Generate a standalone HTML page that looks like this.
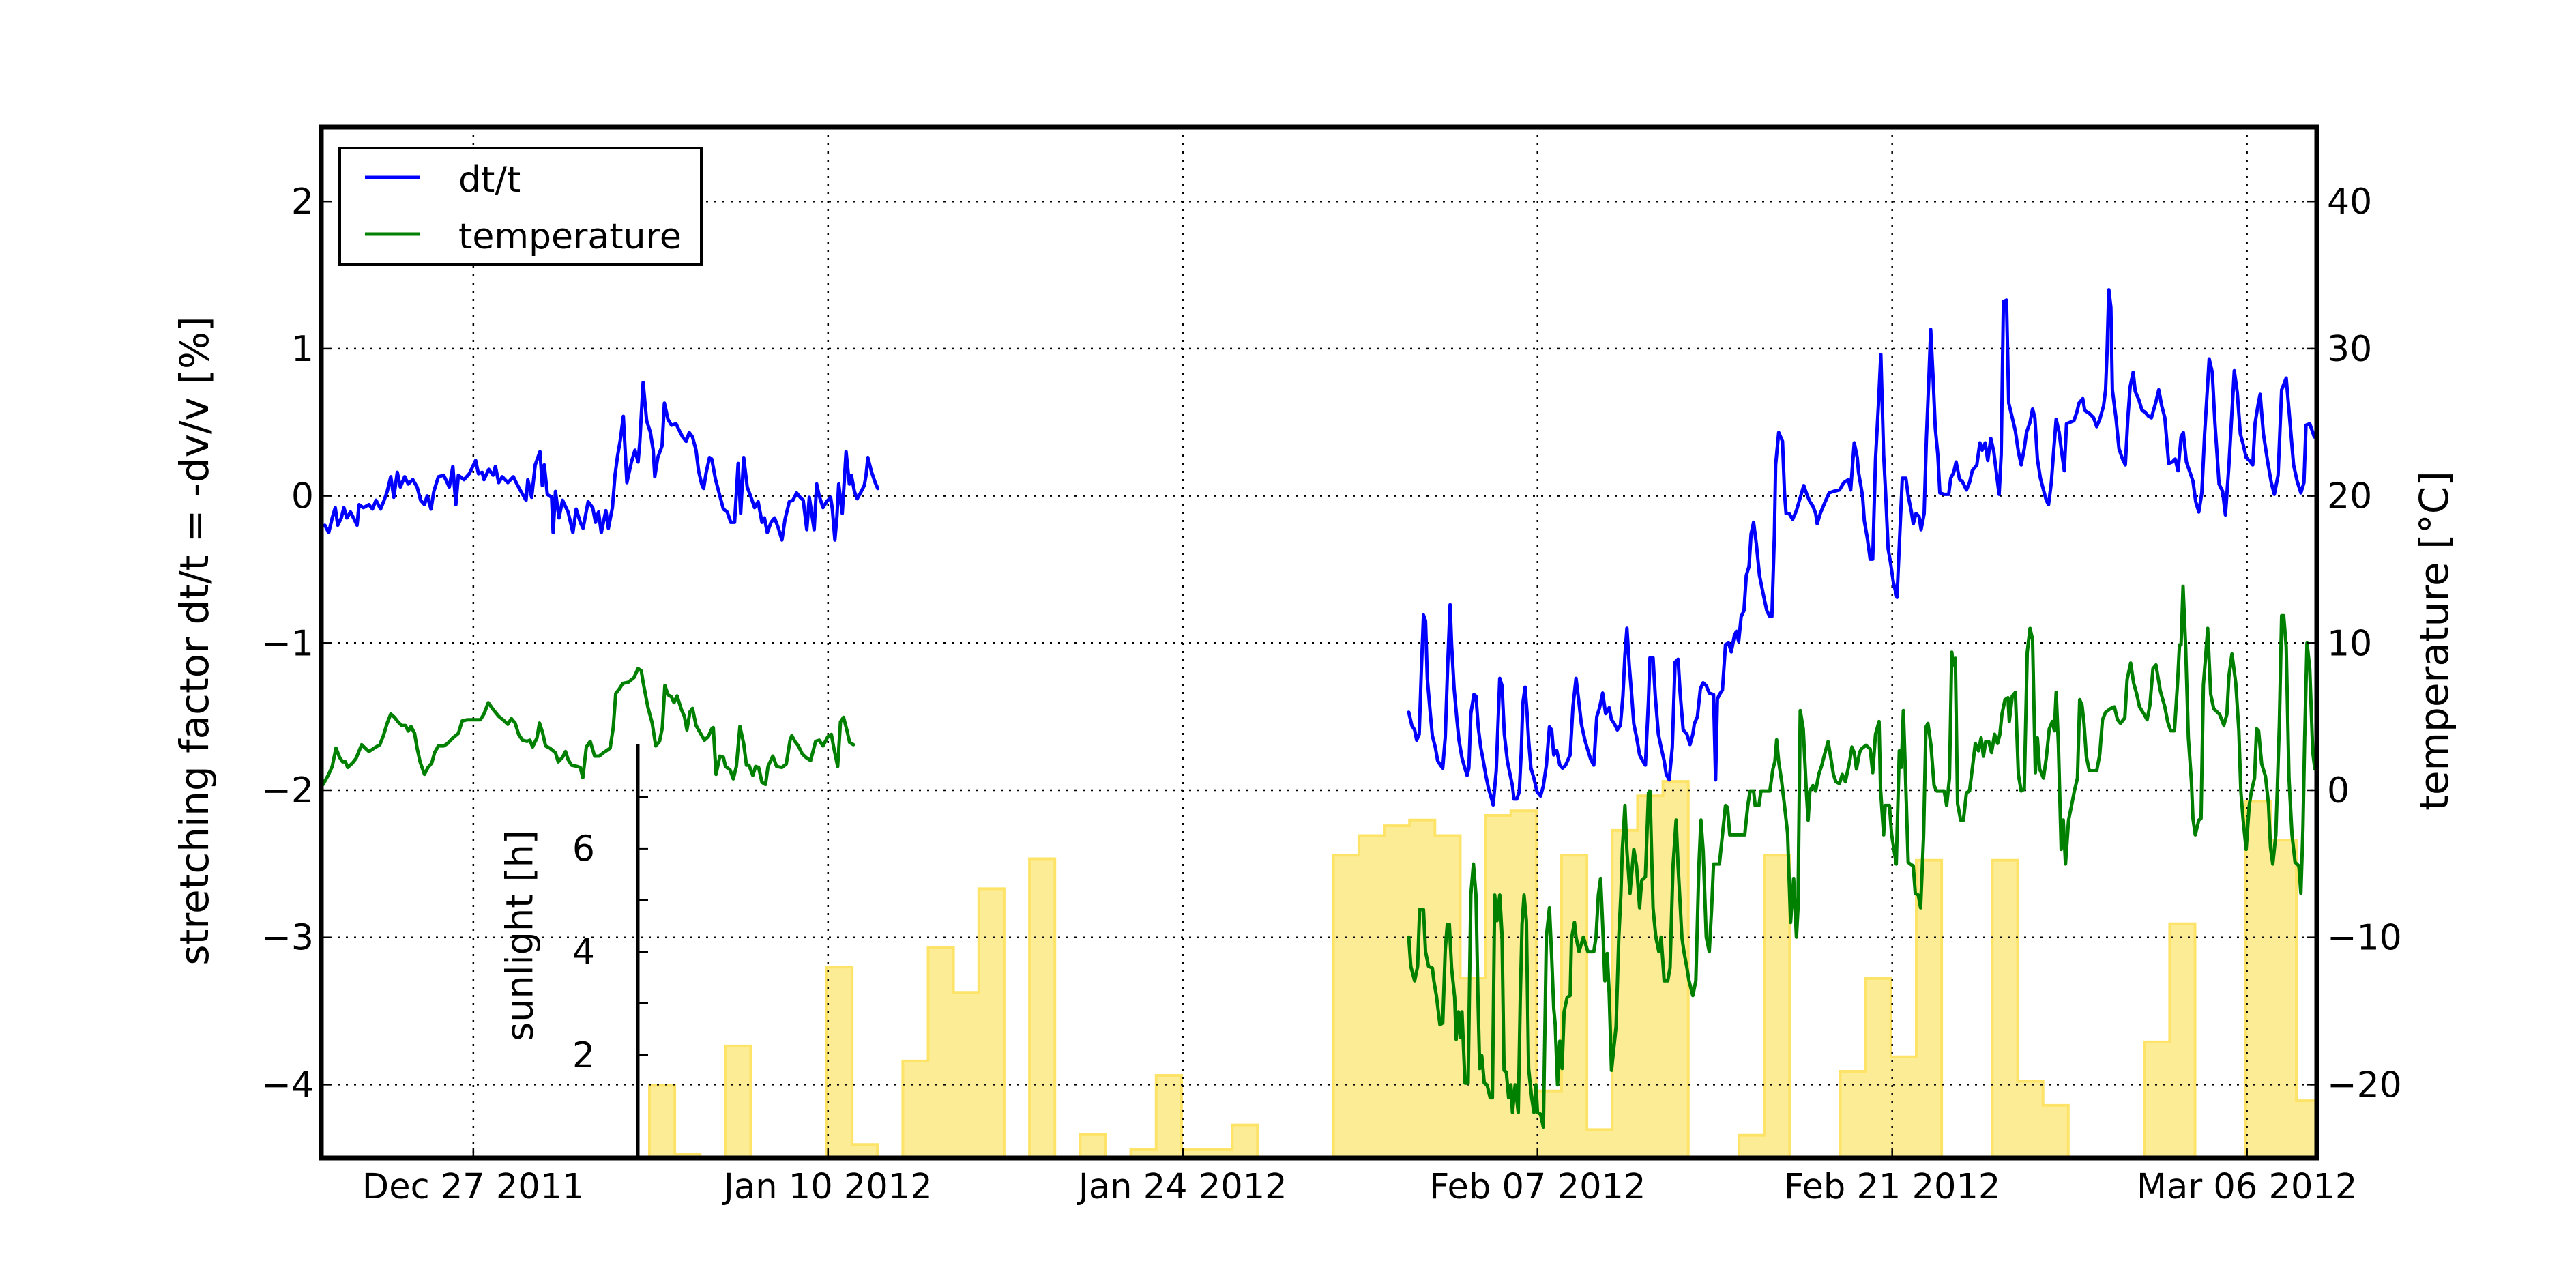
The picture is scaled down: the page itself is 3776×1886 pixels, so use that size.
<!DOCTYPE html>
<html>
<head>
<meta charset="utf-8">
<style>
html,body{margin:0;padding:0;background:#fff;}
svg{display:block;}
text{font-family:"DejaVu Sans","Liberation Sans",sans-serif;fill:#000;}
</style>
</head>
<body>
<svg id="chart" width="3776" height="1886" viewBox="0 0 3776 1886" xmlns="http://www.w3.org/2000/svg">
  <defs>
    <clipPath id="plotclip"><rect x="471" y="186" width="2925" height="1511"/></clipPath>
  </defs>
  <rect x="0" y="0" width="3776" height="1886" fill="#fff"/>
  <g id="sunLayer" clip-path="url(#plotclip)"></g>
  <g id="gridLayer"></g>
  <g id="lineLayer" clip-path="url(#plotclip)"></g>
  <g id="axisLayer"></g>
  <text x="289" y="939" font-size="58" text-anchor="middle" dominant-baseline="middle" transform="rotate(-90 289 939)">stretching factor dt/t = -dv/v [%]</text>
  <text x="3572" y="939" font-size="58" text-anchor="middle" dominant-baseline="middle" transform="rotate(-90 3572 939)">temperature [°C]</text>
  <text x="766" y="1371" font-size="54" text-anchor="middle" dominant-baseline="middle" transform="rotate(-90 766 1371)">sunlight [h]</text>
  <g>
    <rect x="498" y="217" width="530" height="171" fill="#fff" stroke="#000" stroke-width="4"/>
    <line x1="535" y1="260" x2="616" y2="260" stroke="#0000ff" stroke-width="5"/>
    <text x="672" y="281" font-size="52">dt/t</text>
    <line x1="535" y1="343" x2="616" y2="343" stroke="#008000" stroke-width="5"/>
    <text x="672" y="364" font-size="52">temperature</text>
  </g>
</svg>
<script>
// ---- data (days since 2011-12-21) ----
const blueDays1 = [0.14,0.29,0.43,0.55,0.65,0.79,0.89,1.01,1.15,1.30,1.41,1.49,1.66,1.88,2.02,2.16,2.34,2.48,2.60,2.74,2.86,3.00,3.12,3.29,3.43,3.61,3.78,3.92,4.07,4.18,4.33,4.44,4.62,4.83,5.05,5.19,5.31,5.41,5.63,5.84,6.09,6.20,6.35,6.42,6.61,6.78,6.87,7.00,7.14,7.36,7.58,7.72,7.91,8.08,8.15,8.30,8.44,8.63,8.72,8.80,8.92,9.09,9.15,9.24,9.38,9.52,9.74,9.93,10.06,10.22,10.33,10.53,10.71,10.82,10.94,11.05,11.23,11.33,11.49,11.59,11.69,11.80,11.92,12.06,12.24,12.38,12.50,12.57,12.70,12.84,12.99,13.10,13.16,13.28,13.45,13.54,13.68,13.82,14.00,14.11,14.26,14.40,14.52,14.65,14.79,14.89,15.01,15.09,15.19,15.32,15.41,15.56,15.73,15.87,16.02,16.16,16.31,16.45,16.55,16.67,16.81,16.96,17.10,17.24,17.39,17.49,17.60,17.75,17.89,18.04,18.18,18.30,18.47,18.61,18.76,18.90,19.02,19.16,19.26,19.45,19.55,19.65,19.80,19.94,20.10,20.17,20.27,20.35,20.42,20.56,20.71,20.84,20.92,21.04,21.15,21.28,21.43,21.50,21.57,21.72,21.86,21.96];
const blueDt1 = [-0.20,-0.25,-0.15,-0.08,-0.20,-0.15,-0.08,-0.15,-0.11,-0.16,-0.20,-0.06,-0.08,-0.06,-0.09,-0.03,-0.09,-0.03,0.03,0.13,-0.01,0.16,0.06,0.13,0.08,0.11,0.06,-0.03,-0.06,0.00,-0.09,0.03,0.13,0.14,0.06,0.20,-0.06,0.14,0.11,0.15,0.24,0.15,0.16,0.11,0.18,0.14,0.20,0.09,0.13,0.09,0.13,0.08,0.02,-0.03,0.11,-0.01,0.21,0.30,0.07,0.21,0.01,-0.01,-0.25,0.03,-0.15,-0.03,-0.11,-0.25,-0.09,-0.18,-0.22,-0.04,-0.08,-0.18,-0.11,-0.25,-0.10,-0.22,-0.08,0.14,0.27,0.38,0.54,0.09,0.23,0.31,0.23,0.36,0.77,0.51,0.43,0.31,0.13,0.26,0.34,0.63,0.52,0.48,0.49,0.45,0.40,0.37,0.43,0.40,0.31,0.17,0.08,0.05,0.16,0.26,0.25,0.11,0.00,-0.09,-0.11,-0.18,-0.18,0.22,-0.12,0.26,0.06,-0.01,-0.08,-0.04,-0.18,-0.15,-0.25,-0.18,-0.15,-0.22,-0.30,-0.16,-0.04,-0.03,0.02,-0.01,-0.03,-0.23,-0.01,-0.23,0.08,0.00,-0.08,-0.04,-0.01,-0.09,-0.30,-0.14,0.08,-0.12,0.30,0.08,0.14,0.03,-0.02,0.02,0.07,0.14,0.26,0.16,0.09,0.05];
const greenDays1 = [0.07,0.29,0.43,0.58,0.72,0.84,0.95,1.04,1.23,1.37,1.59,1.73,1.88,2.09,2.31,2.45,2.60,2.74,2.89,3.03,3.17,3.32,3.43,3.54,3.68,3.78,3.90,4.07,4.21,4.36,4.47,4.62,4.83,4.98,5.19,5.41,5.56,5.77,5.99,6.28,6.42,6.59,6.78,7.00,7.22,7.36,7.50,7.65,7.79,7.94,8.12,8.23,8.34,8.51,8.61,8.73,8.85,9.02,9.24,9.35,9.52,9.64,9.74,9.88,10.10,10.22,10.32,10.46,10.61,10.79,10.97,11.14,11.40,11.52,11.62,11.76,11.90,12.12,12.34,12.50,12.63,12.70,12.89,13.06,13.20,13.35,13.46,13.56,13.68,13.82,13.92,14.04,14.21,14.33,14.43,14.55,14.65,14.79,14.94,15.12,15.27,15.41,15.47,15.58,15.73,15.87,15.95,16.13,16.26,16.38,16.52,16.67,16.78,16.88,17.03,17.14,17.26,17.39,17.53,17.63,17.82,17.97,18.18,18.35,18.50,18.57,18.69,18.83,18.98,19.12,19.31,19.51,19.65,19.80,19.99,20.13,20.23,20.38,20.49,20.61,20.74,20.85,21.00];
const greenTemp1 = [0.39,1.08,1.62,2.86,2.24,1.93,1.93,1.55,1.85,2.16,3.09,2.86,2.63,2.86,3.09,3.71,4.56,5.18,4.95,4.64,4.40,4.40,4.02,4.33,3.86,2.86,1.93,1.08,1.55,1.85,2.55,3.01,3.01,3.17,3.55,3.86,4.71,4.79,4.79,4.79,5.18,5.95,5.49,5.02,4.71,4.48,4.87,4.56,3.79,3.40,3.32,3.40,2.94,3.55,4.56,3.94,3.01,2.86,2.55,1.93,2.24,2.63,2.09,1.70,1.62,1.55,0.85,2.94,3.32,2.32,2.32,2.55,2.86,4.25,6.57,6.88,7.26,7.34,7.65,8.27,8.11,7.34,5.64,4.56,3.01,3.32,4.25,7.11,6.49,6.34,5.95,6.41,5.49,5.02,4.10,5.33,5.56,4.40,3.94,3.40,3.63,4.17,4.25,1.08,2.32,2.24,1.62,1.39,0.77,1.62,4.33,3.17,1.70,1.70,1.00,1.62,1.55,0.54,0.39,1.62,2.32,1.62,1.55,1.78,3.40,3.71,3.32,3.01,2.47,2.24,2.01,3.32,3.40,3.01,3.63,3.79,2.86,1.62,4.64,4.95,4.10,3.25,3.09];
const blueDays2 = [42.92,43.04,43.15,43.23,43.33,43.42,43.50,43.58,43.65,43.77,43.85,43.97,44.06,44.17,44.26,44.36,44.45,44.55,44.61,44.71,44.82,44.90,45.02,45.10,45.22,45.29,45.37,45.49,45.57,45.66,45.76,45.84,45.96,46.07,46.19,46.25,46.37,46.51,46.60,46.69,46.81,46.89,47.01,47.07,47.18,47.28,47.36,47.42,47.51,47.59,47.65,47.74,47.86,47.98,48.12,48.23,48.35,48.47,48.56,48.64,48.76,48.88,48.99,49.11,49.29,49.40,49.52,49.64,49.73,49.87,49.99,50.10,50.22,50.34,50.45,50.57,50.69,50.83,50.92,51.04,51.15,51.27,51.37,51.45,51.53,51.62,51.72,51.80,51.91,52.03,52.15,52.26,52.38,52.44,52.56,52.65,52.77,52.88,53.00,53.08,53.20,53.32,53.43,53.55,53.63,53.75,53.90,54.02,54.13,54.19,54.31,54.43,54.54,54.66,54.78,54.95,55.03,55.10,55.18,55.30,55.42,55.54,55.65,55.77,55.85,55.94,56.04,56.15,56.24,56.35,56.43,56.53,56.64,56.76,56.90,57.05,57.17,57.25,57.35,57.40,57.52,57.67,57.75,57.81,57.93,58.07,58.22,58.34,58.51,58.63,58.75,58.87,58.98,59.04,59.16,59.33,59.51,59.68,59.92,60.09,60.27,60.36,60.44,60.50,60.62,60.67,60.83,60.90,61.02,61.13,61.23,61.34,61.46,61.55,61.66,61.74,61.84,61.93,62.05,62.19,62.30,62.40,62.54,62.63,62.75,62.83,62.94,63.06,63.14,63.26,63.35,63.45,63.52,63.61,63.70,63.80,63.88,64.05,64.23,64.31,64.43,64.52,64.66,64.76,64.93,65.05,65.16,65.34,65.46,65.55,65.67,65.77,65.89,66.01,66.10,66.22,66.30,66.39,66.51,66.60,66.74,66.86,66.98,67.09,67.21,67.30,67.44,67.54,67.63,67.73,67.85,67.97,68.08,68.17,68.28,68.38,68.47,68.59,68.67,68.79,68.88,69.02,69.17,69.29,69.37,69.52,69.60,69.78,69.95,70.07,70.19,70.34,70.42,70.48,70.55,70.63,70.69,70.83,70.95,71.09,71.20,71.30,71.39,71.51,71.59,71.74,71.86,71.97,72.12,72.23,72.41,72.52,72.64,72.76,72.91,73.05,73.17,73.28,73.40,73.49,73.61,73.75,73.87,73.98,74.10,74.22,74.33,74.51,74.63,74.74,74.90,75.04,75.15,75.29,75.50,75.62,75.74,75.85,75.97,76.09,76.23,76.32,76.44,76.52,76.65,76.81,76.96,77.08,77.23,77.37,77.55,77.66,77.84,77.98,78.13,78.25,78.33,78.48,78.66];
const blueDt2 = [-1.47,-1.56,-1.59,-1.66,-1.62,-1.17,-0.81,-0.85,-1.24,-1.48,-1.63,-1.71,-1.80,-1.83,-1.85,-1.64,-1.17,-0.74,-1.01,-1.31,-1.52,-1.66,-1.78,-1.83,-1.90,-1.85,-1.48,-1.35,-1.36,-1.57,-1.71,-1.78,-1.90,-1.99,-2.06,-2.10,-1.87,-1.24,-1.29,-1.62,-1.80,-1.87,-1.97,-2.06,-2.06,-2.01,-1.73,-1.41,-1.30,-1.48,-1.66,-1.85,-1.92,-2.01,-2.04,-1.97,-1.83,-1.57,-1.59,-1.76,-1.73,-1.83,-1.85,-1.83,-1.76,-1.43,-1.24,-1.41,-1.55,-1.66,-1.73,-1.79,-1.83,-1.50,-1.44,-1.34,-1.48,-1.44,-1.52,-1.55,-1.59,-1.56,-1.36,-1.08,-0.90,-1.15,-1.36,-1.55,-1.64,-1.76,-1.80,-1.83,-1.39,-1.10,-1.10,-1.36,-1.62,-1.71,-1.80,-1.89,-1.93,-1.71,-1.13,-1.11,-1.34,-1.59,-1.62,-1.69,-1.62,-1.55,-1.50,-1.31,-1.27,-1.29,-1.34,-1.35,-1.93,-1.38,-1.35,-1.32,-1.01,-1.00,-1.06,-0.95,-0.92,-0.99,-0.82,-0.78,-0.54,-0.48,-0.26,-0.18,-0.33,-0.54,-0.66,-0.78,-0.82,-0.82,-0.26,0.21,0.43,0.37,0.02,-0.12,-0.12,-0.16,-0.10,-0.03,0.07,0.01,-0.04,-0.07,-0.12,-0.19,-0.12,-0.05,0.02,0.03,0.04,0.09,0.11,0.04,0.22,0.36,0.26,0.16,0.00,-0.17,-0.29,-0.43,-0.43,0.25,0.63,0.96,0.28,0.02,-0.36,-0.45,-0.59,-0.69,-0.26,0.12,0.12,0.00,-0.10,-0.19,-0.12,-0.14,-0.23,-0.12,0.39,0.81,1.13,0.81,0.46,0.28,0.02,0.01,0.01,0.12,0.16,0.23,0.11,0.10,0.04,0.09,0.17,0.21,0.36,0.31,0.36,0.24,0.39,0.30,0.17,0.01,0.28,1.32,1.33,0.63,0.53,0.44,0.30,0.21,0.32,0.43,0.50,0.59,0.53,0.25,0.12,0.04,-0.03,-0.06,0.09,0.32,0.52,0.43,0.32,0.17,0.49,0.50,0.51,0.57,0.63,0.66,0.58,0.56,0.53,0.47,0.52,0.61,0.72,0.98,1.40,1.28,0.72,0.53,0.32,0.25,0.21,0.53,0.74,0.84,0.71,0.65,0.58,0.57,0.54,0.53,0.64,0.72,0.61,0.53,0.22,0.23,0.25,0.17,0.40,0.43,0.23,0.16,0.10,-0.04,-0.11,0.02,0.42,0.93,0.84,0.49,0.08,0.03,-0.13,0.21,0.85,0.70,0.42,0.35,0.26,0.24,0.21,0.49,0.62,0.69,0.42,0.24,0.09,0.01,0.14,0.72,0.80,0.58,0.21,0.10,0.02,0.09,0.48,0.49,0.40];
const greenDays2 = [42.92,43.00,43.15,43.27,43.35,43.50,43.58,43.70,43.85,43.91,44.01,44.15,44.26,44.36,44.44,44.52,44.61,44.73,44.79,44.88,44.96,45.02,45.14,45.26,45.37,45.47,45.57,45.66,45.72,45.80,45.90,46.01,46.13,46.22,46.31,46.40,46.51,46.60,46.68,46.77,46.86,46.95,47.01,47.12,47.24,47.32,47.39,47.47,47.56,47.65,47.77,47.86,47.94,48.00,48.12,48.23,48.35,48.41,48.47,48.56,48.64,48.70,48.79,48.88,48.97,49.05,49.17,49.29,49.34,49.46,49.52,49.64,49.81,49.99,50.22,50.31,50.40,50.49,50.57,50.66,50.75,50.83,50.92,51.10,51.21,51.29,51.35,51.45,51.53,51.65,51.80,51.91,52.03,52.11,52.26,52.38,52.44,52.56,52.67,52.79,52.88,53.00,53.14,53.23,53.35,53.47,53.55,53.70,53.78,53.90,53.98,54.13,54.25,54.37,54.45,54.54,54.66,54.78,54.87,54.95,55.18,55.30,55.42,55.50,55.59,56.18,56.30,56.39,56.53,56.59,56.74,56.82,57.17,57.29,57.37,57.44,57.52,57.64,57.75,57.87,57.99,58.11,58.22,58.28,58.37,58.49,58.61,58.68,58.75,58.87,58.98,59.10,59.22,59.33,59.47,59.59,59.68,59.78,59.92,60.03,60.15,60.33,60.41,60.50,60.59,60.71,60.78,60.96,61.13,61.23,61.34,61.48,61.54,61.66,61.72,61.89,61.98,62.16,62.28,62.36,62.44,62.51,62.63,62.71,62.83,62.91,63.03,63.12,63.24,63.33,63.41,63.53,63.65,63.76,64.05,64.15,64.26,64.35,64.41,64.49,64.58,64.70,64.81,64.93,65.05,65.16,65.28,65.40,65.51,65.60,65.69,65.81,65.92,66.04,66.16,66.25,66.33,66.45,66.57,66.62,66.74,66.86,66.98,67.09,67.21,67.33,67.44,67.54,67.65,67.73,67.82,67.97,68.08,68.20,68.32,68.40,68.47,68.56,68.67,68.75,68.84,68.96,69.08,69.19,69.31,69.40,69.49,69.57,69.66,69.78,69.90,70.07,70.19,70.30,70.42,70.60,70.77,70.89,71.01,71.18,71.27,71.41,71.53,71.65,71.76,71.94,72.06,72.17,72.29,72.41,72.58,72.76,72.87,72.99,73.14,73.26,73.34,73.40,73.48,73.58,73.69,73.81,73.87,73.96,74.10,74.19,74.28,74.39,74.45,74.57,74.69,74.92,75.09,75.21,75.29,75.41,75.56,75.68,75.76,75.85,75.97,76.09,76.18,76.30,76.38,76.46,76.58,76.73,76.85,76.93,77.02,77.14,77.28,77.37,77.45,77.55,77.66,77.78,77.90,78.05,78.13,78.21,78.28,78.37,78.48,78.60,78.68,78.77];
const greenTemp2 = [-9.98,-11.96,-12.95,-11.96,-8.11,-8.11,-10.97,-11.96,-12.08,-12.95,-13.95,-15.93,-15.81,-10.84,-9.11,-9.11,-12.08,-14.07,-16.92,-15.06,-16.80,-15.06,-19.90,-19.90,-7.12,-5.01,-7.12,-14.81,-18.91,-18.04,-19.90,-20.02,-20.89,-20.89,-7.12,-8.86,-7.12,-9.85,-19.03,-19.16,-20.89,-20.02,-21.89,-20.02,-21.89,-14.07,-9.11,-7.12,-8.86,-18.91,-20.89,-21.89,-20.02,-21.89,-22.01,-22.88,-9.98,-8.98,-7.99,-11.34,-14.81,-15.93,-20.02,-17.05,-18.91,-15.06,-14.07,-13.95,-10.10,-8.98,-9.98,-10.97,-9.98,-10.97,-10.97,-9.98,-7.12,-6.00,-9.11,-12.95,-11.09,-13.82,-19.03,-16.05,-9.98,-7.12,-4.02,-1.04,-4.14,-7.00,-4.02,-5.14,-7.99,-6.13,-5.88,-0.17,-0.05,-7.99,-9.98,-10.97,-9.98,-12.95,-12.95,-12.08,-5.14,-2.03,-5.14,-9.98,-10.97,-12.08,-12.95,-13.95,-12.95,-5.14,-2.03,-4.14,-9.98,-10.97,-8.11,-5.01,-5.01,-3.03,-1.04,-1.17,-3.03,-3.03,-1.04,-0.05,-0.05,-1.04,-1.04,-0.05,-0.05,1.44,1.94,3.42,1.94,0.57,-1.04,-2.90,-8.98,-6.00,-9.98,-8.11,5.41,4.17,-0.05,-2.03,-0.05,0.32,-0.05,1.07,1.69,2.43,3.30,2.06,1.07,0.57,0.45,1.07,0.57,2.06,2.93,2.56,1.44,2.56,2.80,3.05,2.80,1.19,3.80,4.67,0.07,-3.03,-1.04,-1.04,-3.03,-5.01,2.68,1.56,5.41,1.81,-4.89,-5.01,-5.14,-7.00,-7.12,-7.99,-3.03,4.29,4.54,3.05,0.32,-0.05,-0.05,-1.04,0.82,9.38,8.51,8.96,-0.92,-2.03,-2.03,-0.17,-0.05,1.44,3.18,2.68,3.55,2.31,3.30,3.30,2.56,3.80,3.18,3.80,5.16,6.15,6.28,4.67,6.40,6.65,1.07,-0.05,0.07,9.38,10.99,10.25,1.19,3.55,1.44,0.82,2.18,4.17,4.67,4.04,6.65,3.05,-4.02,-2.03,-5.01,-2.03,-1.04,-0.05,0.82,6.15,5.78,4.54,2.31,1.32,1.32,1.32,2.43,4.79,5.29,5.53,5.66,4.79,4.54,4.91,7.52,8.64,7.27,6.53,5.66,5.16,4.79,5.78,8.26,8.51,6.77,5.66,4.67,4.04,4.04,7.27,9.88,9.88,13.85,9.75,3.55,0.57,-1.91,-3.03,-2.03,-1.91,7.15,9.50,10.99,6.53,5.53,5.16,4.42,5.16,7.77,9.26,7.27,4.04,-0.05,-2.03,-4.02,-1.04,-0.05,0.82,4.17,4.04,1.81,0.94,-0.92,-3.90,-5.01,-3.03,4.54,11.86,11.86,9.75,0.82,-3.03,-4.89,-5.14,-7.00,-2.66,3.55,10.00,8.26,2.56,1.44,3.30];
// daily sunlight hours, one value per day starting at sunStartDay
const sunStartDay = 13;
const sunHours = [1.41,0.08,0,2.17,0,0,0,3.70,0.26,0,1.88,4.08,3.21,5.22,0,5.80,0,0.45,0,0.16,1.60,0.16,0.16,0.64,0,0,0,5.87,6.25,6.44,6.55,6.25,3.49,6.64,6.73,1.30,5.87,0.55,6.35,7.02,7.30,0,0,0.44,5.87,0,0,1.68,3.48,1.96,5.77,0,0,5.77,1.49,1.02,0,0,0,2.25,4.54,0,0,6.91,6.16,1.11];
const dtTicks = [2,1,0,-1,-2,-3,-4];
const dtTickLabels = ["2","1","0","\u22121","\u22122","\u22123","\u22124"];
const tempTicks = [40,30,20,10,0,-10,-20];
const tempTickLabels = ["40","30","20","10","0","\u221210","\u221220"];
const dateTickDays = [6,20,34,48,62,76];
const dateTickLabels = ["Dec 27 2011","Jan 10 2012","Jan 24 2012","Feb 07 2012","Feb 21 2012","Mar 06 2012"];
const sunTicks = [2,3,4,5,6,7];
const sunTickLabels = ["2","4","6"];
const sunTickLabelValues = [2,4,6];

// ---- scales ----
const L = 471, R = 3396, T = 186, B = 1697;
function xScale(d){ return L + d * 37.14; }
function yDt(v){ return 1158 - (v + 2) * 215.7; }
function yTemp(t){ return 1158 - t * 21.57; }
function ySun(h){ return B - h * 75.6; }

const NS = "http://www.w3.org/2000/svg";
function mk(tag, attrs, parent){
  const e = document.createElementNS(NS, tag);
  for (const k in attrs) e.setAttribute(k, attrs[k]);
  parent.appendChild(e);
  return e;
}
const sunLayer = document.getElementById('sunLayer');
const gridLayer = document.getElementById('gridLayer');
const lineLayer = document.getElementById('lineLayer');
const axisLayer = document.getElementById('axisLayer');

// sunlight step area
(function(){
  let d = "M" + xScale(sunStartDay - 0.05).toFixed(1) + "," + B;
  for (let i = 0; i < sunHours.length; i++) {
    const x0 = xScale(sunStartDay + i - 0.05), x1 = xScale(sunStartDay + i + 0.95);
    const y = ySun(sunHours[i]);
    d += " L" + x0.toFixed(1) + "," + y.toFixed(1) + " L" + x1.toFixed(1) + "," + y.toFixed(1);
  }
  d += " L" + xScale(sunStartDay + sunHours.length - 0.05).toFixed(1) + "," + B + " Z";
  const p = mk('path', {d: d, fill: '#fdec96', stroke: '#fde468', 'stroke-width': 4, 'stroke-linejoin': 'miter'}, sunLayer);
  
  
})();

// grid
dtTicks.forEach(function(v){
  const y = yDt(v);
  const g = mk('line', {x1: L, x2: R, y1: y, y2: y, stroke: '#000', 'stroke-width': 2.5, 'stroke-dasharray': '3,9'}, gridLayer);
  
  
});
dateTickDays.forEach(function(d){
  const x = xScale(d);
  const g = mk('line', {x1: x, x2: x, y1: T, y2: B, stroke: '#000', 'stroke-width': 2.5, 'stroke-dasharray': '3,9'}, gridLayer);
  
  
});

// lines
function drawLine(days, vals, yfn, color, name){
  let d = "";
  for (let i = 0; i < days.length; i++) {
    d += (i ? " L" : "M") + xScale(days[i]).toFixed(1) + "," + yfn(vals[i]).toFixed(1);
  }
  const p = mk('path', {d: d, fill: 'none', stroke: color, 'stroke-width': 5, 'stroke-linejoin': 'round', 'stroke-linecap': 'round'}, lineLayer);
  
  
}
drawLine(greenDays1, greenTemp1, yTemp, '#008000', 'temperature-line-1');
drawLine(greenDays2, greenTemp2, yTemp, '#008000', 'temperature-line-2');
drawLine(blueDays1, blueDt1, yDt, '#0000ff', 'dtt-line-1');
drawLine(blueDays2, blueDt2, yDt, '#0000ff', 'dtt-line-2');

// ticks and tick labels
dtTicks.forEach(function(v, i){
  const y = yDt(v);
  const t = mk('line', {x1: L, x2: L + 14, y1: y, y2: y, stroke: '#000', 'stroke-width': 2.5}, axisLayer);
  
  
  const tx = mk('text', {x: 460, y: y + 18, 'font-size': 52, 'text-anchor': 'end'}, axisLayer);
  tx.textContent = dtTickLabels[i];
  
  
});
tempTicks.forEach(function(v, i){
  const y = yTemp(v);
  const t = mk('line', {x1: R - 14, x2: R, y1: y, y2: y, stroke: '#000', 'stroke-width': 2.5}, axisLayer);
  
  
  const tx = mk('text', {x: 3411, y: y + 18, 'font-size': 52, 'text-anchor': 'start'}, axisLayer);
  tx.textContent = tempTickLabels[i];
  
  
});
dateTickDays.forEach(function(d, i){
  const x = xScale(d);
  const t = mk('line', {x1: x, x2: x, y1: B - 14, y2: B, stroke: '#000', 'stroke-width': 2.5}, axisLayer);
  
  
  const tx = mk('text', {x: x, y: 1756, 'font-size': 51, 'text-anchor': 'middle'}, axisLayer);
  tx.textContent = dateTickLabels[i];
  
  
});

// sunlight inset axis
(function(){
  const ax = mk('line', {x1: 935, x2: 935, y1: 1091, y2: B, stroke: '#000', 'stroke-width': 5}, axisLayer);
  
  
  sunTicks.forEach(function(h){
    const y = ySun(h);
    const t = mk('line', {x1: 935, x2: 950, y1: y, y2: y, stroke: '#000', 'stroke-width': 3}, axisLayer);
    
    
  });
  sunTickLabelValues.forEach(function(h, i){
    const tx = mk('text', {x: 872, y: ySun(h) + 18, 'font-size': 52, 'text-anchor': 'end'}, axisLayer);
    tx.textContent = sunTickLabels[i];
    
    
  });
})();

// frame
(function(){
  const f = mk('rect', {x: L, y: T, width: R - L, height: B - T, fill: 'none', stroke: '#000', 'stroke-width': 7}, axisLayer);
  
  
})();
</script>
</body>
</html>
